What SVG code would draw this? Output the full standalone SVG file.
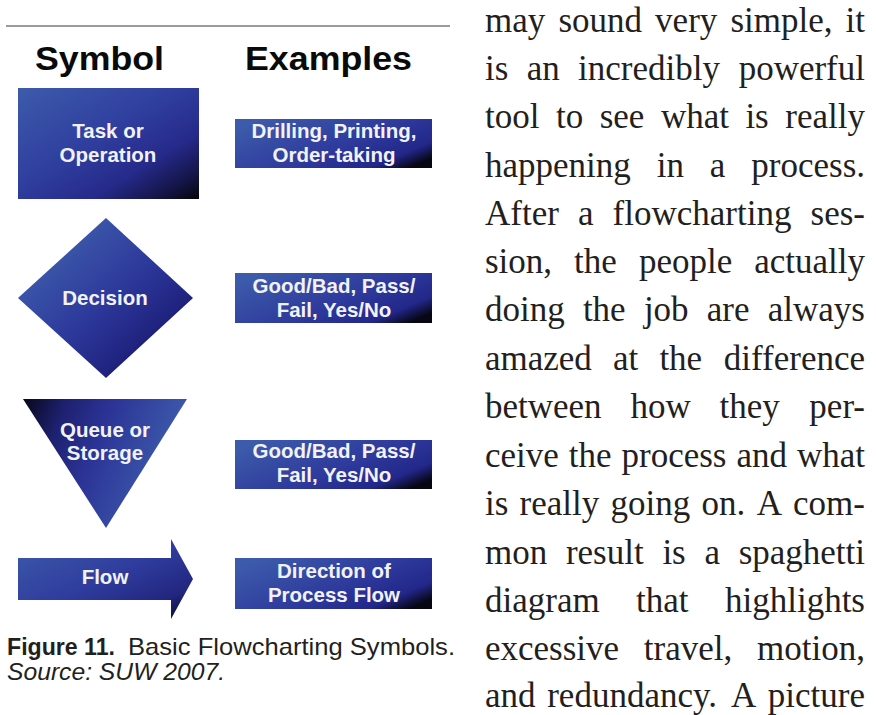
<svg xmlns="http://www.w3.org/2000/svg" width="876" height="715" viewBox="0 0 876 715">
<style>
.hdr{font-family:"Liberation Sans",Arial,sans-serif;font-weight:bold;font-size:34px;fill:#0a0a0a}
.lbl{font-family:"Liberation Sans",Arial,sans-serif;font-weight:bold;font-size:20.5px;fill:#f2f2f5;text-anchor:middle}
.body{font-family:"Liberation Serif","Times New Roman",serif;font-size:35px;fill:#231f20}
.r{text-anchor:end}
.cap{font-family:"Liberation Sans",Arial,sans-serif;font-size:24px;fill:#231f20}
</style>
<defs>
<linearGradient id="gBox" x1="0" y1="0" x2="1" y2="1">
<stop offset="0" stop-color="#3d5bab"/>
<stop offset="0.45" stop-color="#2f3e9e"/>
<stop offset="0.7" stop-color="#262a8a"/>
<stop offset="0.88" stop-color="#141546"/>
<stop offset="1" stop-color="#050508"/>
</linearGradient>
<linearGradient id="gEx" x1="0" y1="0.2" x2="1" y2="0.8">
<stop offset="0" stop-color="#3d5bab"/>
<stop offset="0.55" stop-color="#2e3a9c"/>
<stop offset="0.85" stop-color="#23278a"/>
<stop offset="1" stop-color="#070714"/>
</linearGradient>
<linearGradient id="gDia" x1="0.15" y1="0.15" x2="0.9" y2="0.9">
<stop offset="0" stop-color="#3f5dad"/>
<stop offset="0.5" stop-color="#2c379a"/>
<stop offset="0.78" stop-color="#20237f"/>
<stop offset="1" stop-color="#08081a"/>
</linearGradient>
<linearGradient id="gTri" x1="0" y1="0" x2="1" y2="0.3">
<stop offset="0" stop-color="#07071a"/>
<stop offset="0.25" stop-color="#1e2170"/>
<stop offset="0.5" stop-color="#2b3396"/>
<stop offset="1" stop-color="#3f5eae"/>
</linearGradient>
<linearGradient id="gArr" x1="0" y1="0" x2="1" y2="1">
<stop offset="0" stop-color="#3d5bab"/>
<stop offset="0.5" stop-color="#2f3c9d"/>
<stop offset="0.8" stop-color="#22267f"/>
<stop offset="1" stop-color="#07071a"/>
</linearGradient>
</defs>
<rect width="876" height="715" fill="#ffffff"/>
<line x1="6" y1="26" x2="450" y2="26" stroke="#7a7a7a" stroke-width="1.5"/>
<text class="hdr" x="35" y="70" textLength="129" lengthAdjust="spacingAndGlyphs">Symbol</text>
<text class="hdr" x="245" y="70" textLength="167" lengthAdjust="spacingAndGlyphs">Examples</text>

<g id="task">
<rect x="18" y="88" width="181" height="111" fill="url(#gBox)"/>
<text class="lbl" x="108" y="138">Task or</text>
<text class="lbl" x="108" y="162">Operation</text>
</g>
<g id="ex-task">
<rect x="235" y="119" width="197" height="49" fill="url(#gEx)"/>
<text class="lbl" x="334" y="138">Drilling, Printing,</text>
<text class="lbl" x="334" y="162">Order-taking</text>
</g>

<g id="decision">
<polygon points="106,218 193,298 106,378 18,298" fill="url(#gDia)"/>
<text class="lbl" x="105" y="305">Decision</text>
</g>
<g id="ex-decision">
<rect x="235" y="273" width="197" height="50" fill="url(#gEx)"/>
<text class="lbl" x="334" y="293">Good/Bad, Pass/</text>
<text class="lbl" x="334" y="317">Fail, Yes/No</text>
</g>

<g id="queue">
<polygon points="23,399 187,399 106,528" fill="url(#gTri)"/>
<text class="lbl" x="105" y="437">Queue or</text>
<text class="lbl" x="105" y="460">Storage</text>
</g>
<g id="ex-queue">
<rect x="235" y="440" width="197" height="49" fill="url(#gEx)"/>
<text class="lbl" x="334" y="458">Good/Bad, Pass/</text>
<text class="lbl" x="334" y="482">Fail, Yes/No</text>
</g>

<g id="flow">
<polygon points="18,558 171,558 171,539 193,579 171,619 171,600 18,600" fill="url(#gArr)"/>
<text class="lbl" x="105" y="584">Flow</text>
</g>
<g id="ex-flow">
<rect x="235" y="558" width="197" height="51" fill="url(#gEx)"/>
<text class="lbl" x="334" y="578">Direction of</text>
<text class="lbl" x="334" y="602">Process Flow</text>
</g>

<g id="connectors"></g>

<g id="caption">
<text class="cap" x="7" y="655" font-weight="bold" textLength="108" lengthAdjust="spacingAndGlyphs">Figure 11.</text>
<text class="cap" x="128" y="655" textLength="327" lengthAdjust="spacingAndGlyphs">Basic Flowcharting Symbols.</text>
<text class="cap" x="7" y="680" font-style="italic" textLength="218" lengthAdjust="spacingAndGlyphs">Source: SUW 2007.</text>
</g>

<g id="bodytext" class="body">
<text y="32"><tspan x="485">may</tspan><tspan x="558.4">sound</tspan><tspan x="655.1">very</tspan><tspan x="730.4">simple,</tspan></text>
<text class="r" x="865" y="32">it</text>
<text y="80"><tspan x="485">is</tspan><tspan x="526.7">an</tspan><tspan x="578.1">incredibly</tspan></text>
<text class="r" x="865" y="80">powerful</text>
<text y="128"><tspan x="485">tool</tspan><tspan x="556">to</tspan><tspan x="599.7">see</tspan><tspan x="660.9">what</tspan><tspan x="745.4">is</tspan></text>
<text class="r" x="865" y="128">really</text>
<text y="177"><tspan x="485">happening</tspan><tspan x="656.7">in</tspan><tspan x="709.8">a</tspan></text>
<text class="r" x="865" y="177">process.</text>
<text y="225"><tspan x="485">After</tspan><tspan x="578">a</tspan><tspan x="612.6">flowcharting</tspan></text>
<text class="r" x="865" y="225">ses-</text>
<text y="273"><tspan x="485">sion,</tspan><tspan x="574.1">the</tspan><tspan x="638.9">people</tspan></text>
<text class="r" x="865" y="273">actually</text>
<text y="321"><tspan x="485">doing</tspan><tspan x="582.9">the</tspan><tspan x="643.9">job</tspan><tspan x="706.8">are</tspan></text>
<text class="r" x="865" y="321">always</text>
<text y="370"><tspan x="485">amazed</tspan><tspan x="613">at</tspan><tspan x="659.4">the</tspan></text>
<text class="r" x="865" y="370">difference</text>
<text y="418"><tspan x="485">between</tspan><tspan x="630.4">how</tspan><tspan x="719.5">they</tspan></text>
<text class="r" x="865" y="418">per-</text>
<text y="467"><tspan x="485">ceive</tspan><tspan x="568.8">the</tspan><tspan x="621.5">process</tspan><tspan x="736.4">and</tspan></text>
<text class="r" x="865" y="467">what</text>
<text y="515"><tspan x="485">is</tspan><tspan x="519.6">really</tspan><tspan x="610.6">going</tspan><tspan x="701.6">on.</tspan><tspan x="756.7">A</tspan></text>
<text class="r" x="865" y="515">com-</text>
<text y="564"><tspan x="485">mon</tspan><tspan x="565.9">result</tspan><tspan x="662.4">is</tspan><tspan x="704.4">a</tspan></text>
<text class="r" x="865" y="564">spaghetti</text>
<text y="612"><tspan x="485">diagram</tspan><tspan x="636.1">that</tspan></text>
<text class="r" x="865" y="612">highlights</text>
<text y="660"><tspan x="485">excessive</tspan><tspan x="643.8">travel,</tspan></text>
<text class="r" x="865" y="660">motion,</text>
<text y="707"><tspan x="485">and</tspan><tspan x="547.2">redundancy.</tspan><tspan x="730.9">A</tspan></text>
<text class="r" x="865" y="707">picture</text>
</g>
</svg>
